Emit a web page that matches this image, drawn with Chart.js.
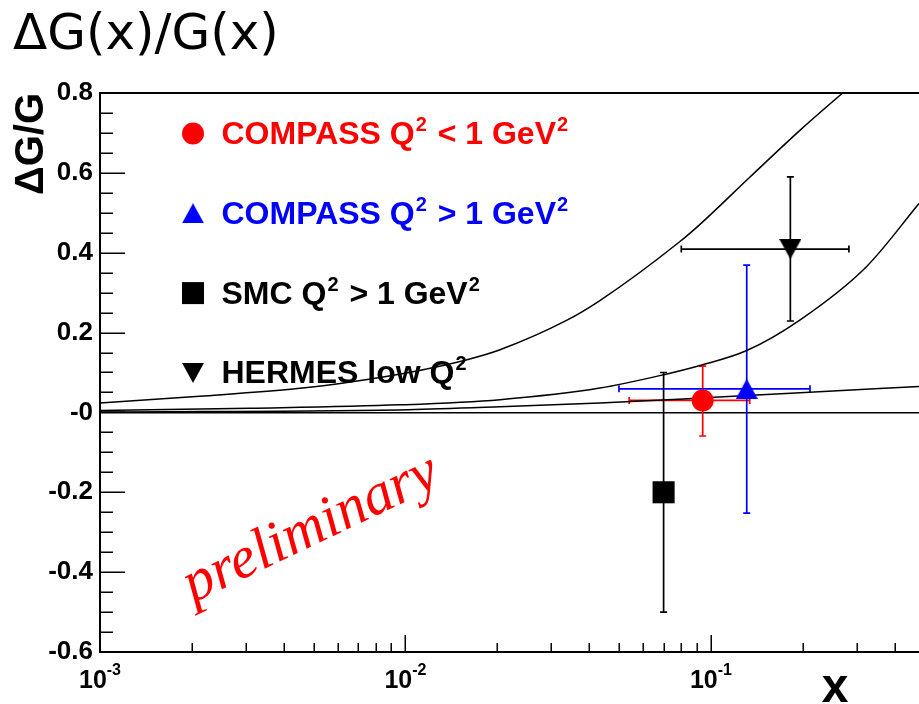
<!DOCTYPE html>
<html><head><meta charset="utf-8">
<script src="https://cdn.jsdelivr.net/npm/chart.js@4.4.0/dist/chart.umd.min.js"></script>
<style>html,body{margin:0;padding:0;background:#fff;overflow:hidden}canvas{display:block}</style>
</head><body>
<canvas id="c" width="919" height="704"></canvas>
<script>
// ---------- texts ----------
const chartTitle = 'ΔG(x)/G(x)';
const yAxisTitle = 'ΔG/G';
const xAxisTitle = 'x';
const watermark = 'preliminary';
const yTickLabels = ['-0.6', '-0.4', '-0.2', '-0', '0.2', '0.4', '0.6', '0.8'];
const xTickValues = [0.001, 0.01, 0.1];
const xTickExponents = ['-3', '-2', '-1'];

// ---------- measured points ----------
const seriesNames = ['COMPASS Q^{2} < 1 GeV^{2}', 'COMPASS Q^{2} > 1 GeV^{2}', 'SMC Q^{2} > 1 GeV^{2}', 'HERMES low Q^{2}'];
const seriesColors = ['#ff0000', '#0000ff', '#000000', '#000000'];
const seriesX = [0.094, 0.131, 0.070, 0.182];
const seriesY = [0.030, 0.059, -0.200, 0.409];
const seriesXLow = [0.054, 0.050, null, 0.080];
const seriesXHigh = [0.134, 0.211, null, 0.283];
const seriesYLow = [-0.059, -0.252, -0.500, 0.229];
const seriesYHigh = [0.116, 0.369, 0.100, 0.590];

// ---------- model curves ----------
const curveAX = [0.001, 0.00212, 0.00451, 0.00669, 0.0109, 0.0159, 0.0204, 0.0338, 0.0433, 0.0792, 0.0921, 0.134, 0.196, 0.270, 0.331];
const curveAY = [0.0235, 0.0405, 0.0605, 0.077, 0.104, 0.132, 0.157, 0.231, 0.280, 0.428, 0.471, 0.589, 0.707, 0.800, 0.857];
const curveBX = [0.001, 0.0031, 0.0096, 0.0204, 0.0433, 0.0697, 0.0921, 0.131, 0.196, 0.323, 0.480];
const curveBY = [0.005, 0.0105, 0.019, 0.032, 0.061, 0.094, 0.1175, 0.155, 0.232, 0.365, 0.523];
const curveCX = [0.001, 0.0102, 0.0204, 0.0433, 0.0921, 0.196, 0.480];
const curveCY = [0.001, 0.007, 0.014, 0.0235, 0.036, 0.0495, 0.065];

// ---------- styling helpers ----------
function triangleImage(color, down) {
  const c = document.createElement('canvas');
  c.width = 22; c.height = 20;
  const g = c.getContext('2d');
  g.fillStyle = color;
  g.beginPath();
  if (down) { g.moveTo(0, 0); g.lineTo(22, 0); g.lineTo(11, 20); }
  else { g.moveTo(11, 0); g.lineTo(22, 20); g.lineTo(0, 20); }
  g.closePath(); g.fill();
  return c;
}
const markerStyles = ['circle', triangleImage('#0000ff', false), 'rect', triangleImage('#000000', true)];
const markerRadii = [11, 11, 15.6, 11];

const SANS = '"Liberation Sans", Arial, Helvetica, sans-serif';

function curveDataset(xs, ys) {
  return {
    type: 'line',
    data: xs.map((x, i) => ({ x: x, y: ys[i] })),
    borderColor: '#000', borderWidth: 1.5,
    pointRadius: 0, fill: false,
    cubicInterpolationMode: 'monotone',
    order: 10
  };
}

const datasets = [
  curveDataset(curveAX, curveAY),
  curveDataset(curveBX, curveBY),
  curveDataset(curveCX, curveCY)
];
seriesNames.forEach((name, i) => {
  datasets.push({
    type: 'scatter',
    label: name,
    data: [{ x: seriesX[i], y: seriesY[i] }],
    pointStyle: markerStyles[i],
    pointRadius: markerRadii[i],
    backgroundColor: seriesColors[i],
    borderColor: seriesColors[i],
    borderWidth: 0,
    order: 1
  });
});

function drawRich(ctx, text, x, baseline, size, supSize, supRise) {
  const parts = text.split(/\^\{(.*?)\}/);
  let cx = x;
  parts.forEach((p, k) => {
    if (!p) return;
    if (k % 2 === 0) {
      ctx.font = 'bold ' + size + 'px ' + SANS;
      ctx.fillText(p, cx, baseline);
      cx += ctx.measureText(p).width;
    } else {
      ctx.font = 'bold ' + supSize + 'px ' + SANS;
      ctx.fillText(p, cx + 1, baseline - supRise);
      cx += ctx.measureText(p).width + 3;
    }
  });
}

const decor = {
  id: 'decor',
  beforeDatasetsDraw(chart) {
    const ctx = chart.ctx, xs = chart.scales.x, ys = chart.scales.y;
    ctx.save();
    ctx.lineWidth = 1.7;
    const cap = 3.5;
    seriesNames.forEach((n, i) => {
      ctx.strokeStyle = seriesColors[i];
      const px = xs.getPixelForValue(seriesX[i]);
      const py = ys.getPixelForValue(seriesY[i]);
      const y1 = ys.getPixelForValue(seriesYLow[i]);
      const y2 = ys.getPixelForValue(seriesYHigh[i]);
      ctx.beginPath();
      ctx.moveTo(px, y1); ctx.lineTo(px, y2);
      ctx.moveTo(px - cap, y1); ctx.lineTo(px + cap, y1);
      ctx.moveTo(px - cap, y2); ctx.lineTo(px + cap, y2);
      if (seriesXLow[i] !== null) {
        const x1 = xs.getPixelForValue(seriesXLow[i]);
        const x2 = xs.getPixelForValue(seriesXHigh[i]);
        ctx.moveTo(x1, py); ctx.lineTo(x2, py);
        ctx.moveTo(x1, py - cap); ctx.lineTo(x1, py + cap);
        ctx.moveTo(x2, py - cap); ctx.lineTo(x2, py + cap);
      }
      ctx.stroke();
    });
    ctx.restore();
  },
  afterDraw(chart) {
    const ctx = chart.ctx, xs = chart.scales.x, ys = chart.scales.y, a = chart.chartArea;
    ctx.save();
    // top frame line
    ctx.strokeStyle = '#000'; ctx.lineWidth = 2;
    ctx.beginPath(); ctx.moveTo(a.left, a.top); ctx.lineTo(a.right + 2, a.top); ctx.stroke();
    // inward ticks
    ctx.lineWidth = 1.5;
    ctx.beginPath();
    for (let k = 0; k <= 28; k++) {
      const v = -0.6 + k * 0.05;
      const py = Math.round(ys.getPixelForValue(v)) + 0.25;
      const len = (k % 4 === 0) ? 25 : 13;
      ctx.moveTo(a.left, py); ctx.lineTo(a.left + len, py);
    }
    for (let n = -3; n <= -1; n++) {
      for (let m = 1; m <= 9; m++) {
        const v = m * Math.pow(10, n);
        if (v > xs.max) continue;
        const px = Math.round(xs.getPixelForValue(v)) + 0.25;
        const len = (m === 1) ? 17 : 9;
        ctx.moveTo(px, a.bottom); ctx.lineTo(px, a.bottom - len);
      }
    }
    ctx.stroke();
    // x tick labels with exponents
    ctx.fillStyle = '#000';
    ctx.textBaseline = 'alphabetic';
    ctx.textAlign = 'left';
    xTickValues.forEach((v, i) => {
      const px = xs.getPixelForValue(v);
      ctx.font = 'bold 25px ' + SANS;
      const w1 = ctx.measureText('10').width;
      ctx.font = 'bold 16px ' + SANS;
      const w2 = ctx.measureText(xTickExponents[i]).width;
      const x0 = px - (w1 + w2) / 2;
      ctx.font = 'bold 25px ' + SANS;
      ctx.fillText('10', x0, 688);
      ctx.font = 'bold 16px ' + SANS;
      ctx.fillText(xTickExponents[i], x0 + w1, 675);
    });
    // x axis title
    ctx.font = 'bold 48px ' + SANS;
    ctx.textAlign = 'center';
    ctx.fillText(xAxisTitle, 835, 702);
    // chart title
    ctx.textAlign = 'left';
    ctx.font = '50px "DejaVu Sans", sans-serif';
    ctx.fillText(chartTitle, 13, 49);
    // legend
    seriesNames.forEach((name, i) => {
      const base = 144 + i * 79.8;
      const cy = base - 10.5;
      ctx.fillStyle = seriesColors[i];
      if (i === 0) { ctx.beginPath(); ctx.arc(193, cy, 11, 0, Math.PI * 2); ctx.fill(); }
      else if (i === 2) { ctx.fillRect(182, cy - 11, 22, 22); }
      else { ctx.drawImage(markerStyles[i], 182, cy - 10); }
      ctx.textAlign = 'left';
      drawRich(ctx, name, 221.5, base, 32, 20, 13);
    });
    // watermark
    ctx.save();
    ctx.translate(193, 603);
    ctx.rotate(-25.5 * Math.PI / 180);
    ctx.fillStyle = '#ff0000';
    ctx.font = 'italic 59px "Liberation Serif", "Times New Roman", serif';
    ctx.fillText(watermark, 0, 0);
    ctx.restore();
    ctx.restore();
  }
};

new Chart(document.getElementById('c'), {
  type: 'line',
  data: { datasets: datasets },
  plugins: [decor],
  options: {
    responsive: false,
    animation: false,
    devicePixelRatio: 1,
    layout: { autoPadding: false, padding: { top: 93, right: 0, bottom: 0, left: 0 } },
    plugins: { legend: { display: false }, tooltip: { enabled: false } },
    scales: {
      x: {
        type: 'logarithmic',
        min: 0.001, max: 0.48,
        grid: { display: false, drawTicks: false },
        border: { display: true, color: '#000', width: 2 },
        ticks: { display: false },
        afterFit: (s) => { s.height = 52; }
      },
      y: {
        type: 'linear',
        min: -0.6, max: 0.8,
        grid: {
          drawTicks: false,
          color: (c) => (c.tick && Math.abs(c.tick.value) < 1e-9) ? '#000' : 'rgba(0,0,0,0)',
          lineWidth: 1.5
        },
        border: { display: true, color: '#000', width: 2 },
        ticks: {
          stepSize: 0.2,
          padding: 7,
          color: '#000',
          font: { family: SANS, size: 26, weight: 'bold' },
          callback: (v, i) => yTickLabels[i]
        },
        title: {
          display: true, text: yAxisTitle, align: 'end', color: '#000',
          font: { family: SANS, size: 40, weight: 'bold' },
          padding: { top: 8, bottom: 0 }
        },
        afterFit: (s) => { s.width = 100; }
      }
    }
  }
});
</script>
</body></html>
